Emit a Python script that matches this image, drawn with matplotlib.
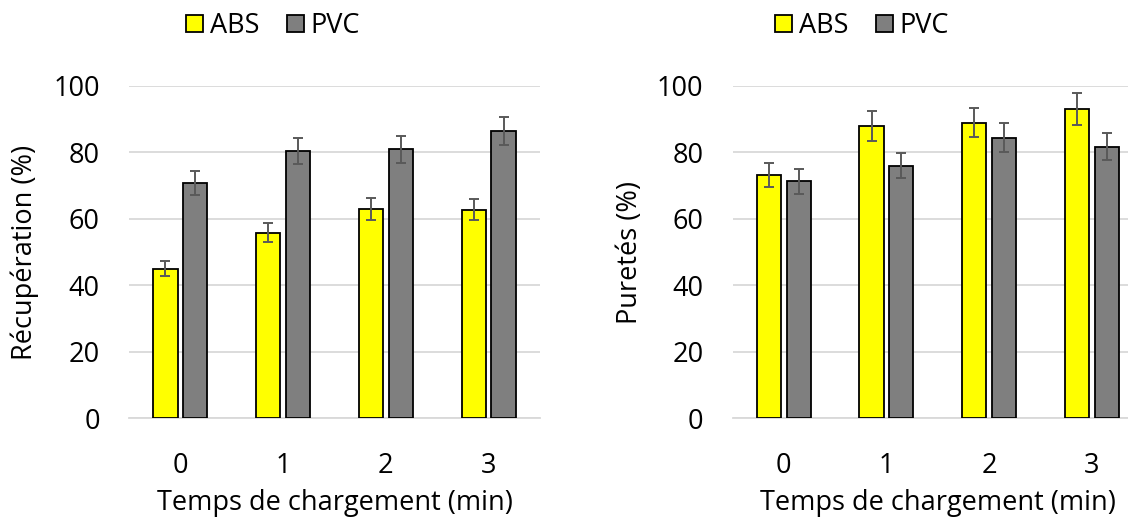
import matplotlib
matplotlib.use("Agg")
import matplotlib.pyplot as plt
from matplotlib.patches import Patch
import numpy as np

plt.rcParams['font.family'] = ['Open Sans', 'DejaVu Sans']

categories = ["0", "1", "2", "3"]
series_names = ["ABS", "PVC"]

recup_abs = [45.0, 55.9, 63.1, 62.8]
recup_abs_err = [2.2, 2.8, 3.3, 3.2]
recup_pvc = [70.9, 80.5, 81.0, 86.4]
recup_pvc_err = [3.6, 4.0, 4.1, 4.3]

purete_abs = [73.2, 88.0, 89.0, 93.1]
purete_abs_err = [3.6, 4.5, 4.4, 4.7]
purete_pvc = [71.3, 76.0, 84.5, 81.7]
purete_pvc_err = [3.7, 3.8, 4.3, 4.1]

yticks = [0, 20, 40, 60, 80, 100]
xlabel = "Temps de chargement (min)"
ylabels = ["Récupération (%)", "Puretés (%)"]

colors = ["#FFFF00", "#7F7F7F"]
FS = 19.5
W, H = 1128, 521
fig = plt.figure(figsize=(W / 100, H / 100), dpi=100)

def px_axes(x0, x1, ytop, ybot):
    return fig.add_axes([x0 / W, 1 - ybot / H, (x1 - x0) / W, (ybot - ytop) / H])

ax1 = px_axes(129, 540, 86, 418.3)
ax2 = px_axes(732.5, 1143, 86, 418.3)

def draw(ax, a, ae, p, pe, ylabel, label_x):
    x = np.arange(len(categories))
    bw = 0.235
    off = 0.145
    ax.bar(x - off, a, bw, color=colors[0], edgecolor="black", linewidth=1.3, zorder=3)
    ax.bar(x + off, p, bw, color=colors[1], edgecolor="black", linewidth=1.3, zorder=3)
    ax.errorbar(x - off, a, yerr=ae, fmt="none", ecolor="#595959", elinewidth=1.4,
                capsize=3.8, capthick=1.4, zorder=4)
    ax.errorbar(x + off, p, yerr=pe, fmt="none", ecolor="#595959", elinewidth=1.4,
                capsize=3.8, capthick=1.4, zorder=4)
    ax.set_xlim(-0.5, len(categories) - 0.5)
    ax.set_ylim(0, 100)
    ax.set_yticks(yticks)
    ax.set_xticks(x)
    ax.set_xticklabels(categories)
    ax.grid(axis="y", color="#D9D9D9", linewidth=1.3, zorder=0)
    ax.set_axisbelow(True)
    for s in ["top", "right", "left"]:
        ax.spines[s].set_visible(False)
    ax.spines["bottom"].set_color("#D9D9D9")
    ax.spines["bottom"].set_linewidth(1.3)
    ax.tick_params(axis="both", length=0, labelsize=FS, colors="black")
    ax.tick_params(axis="y", pad=21)
    ax.tick_params(axis="x", pad=24)
    ax.set_xlabel(xlabel, fontsize=FS, labelpad=7)
    ax.set_ylabel(ylabel, fontsize=FS)
    ax.yaxis.label.set_verticalalignment("center")
    ax.yaxis.set_label_coords(label_x, 0.5)

draw(ax1, recup_abs, recup_abs_err, recup_pvc, recup_pvc_err, ylabels[0], (25 - 129) / 411)
draw(ax2, purete_abs, purete_abs_err, purete_pvc, purete_pvc_err, ylabels[1], (630 - 732.5) / 410.5)

handles = [Patch(facecolor=colors[0], edgecolor="black", linewidth=1.3),
           Patch(facecolor=colors[1], edgecolor="black", linewidth=1.3)]
for cx in [273, 862]:
    fig.legend(handles, series_names, loc="center", bbox_to_anchor=(cx / W, 1 - 26 / H),
               ncol=2, frameon=False, fontsize=FS, handlelength=0.64, handleheight=0.64,
               handletextpad=0.25, columnspacing=1.0, borderpad=0)

fig.savefig("out.png", dpi=100)
